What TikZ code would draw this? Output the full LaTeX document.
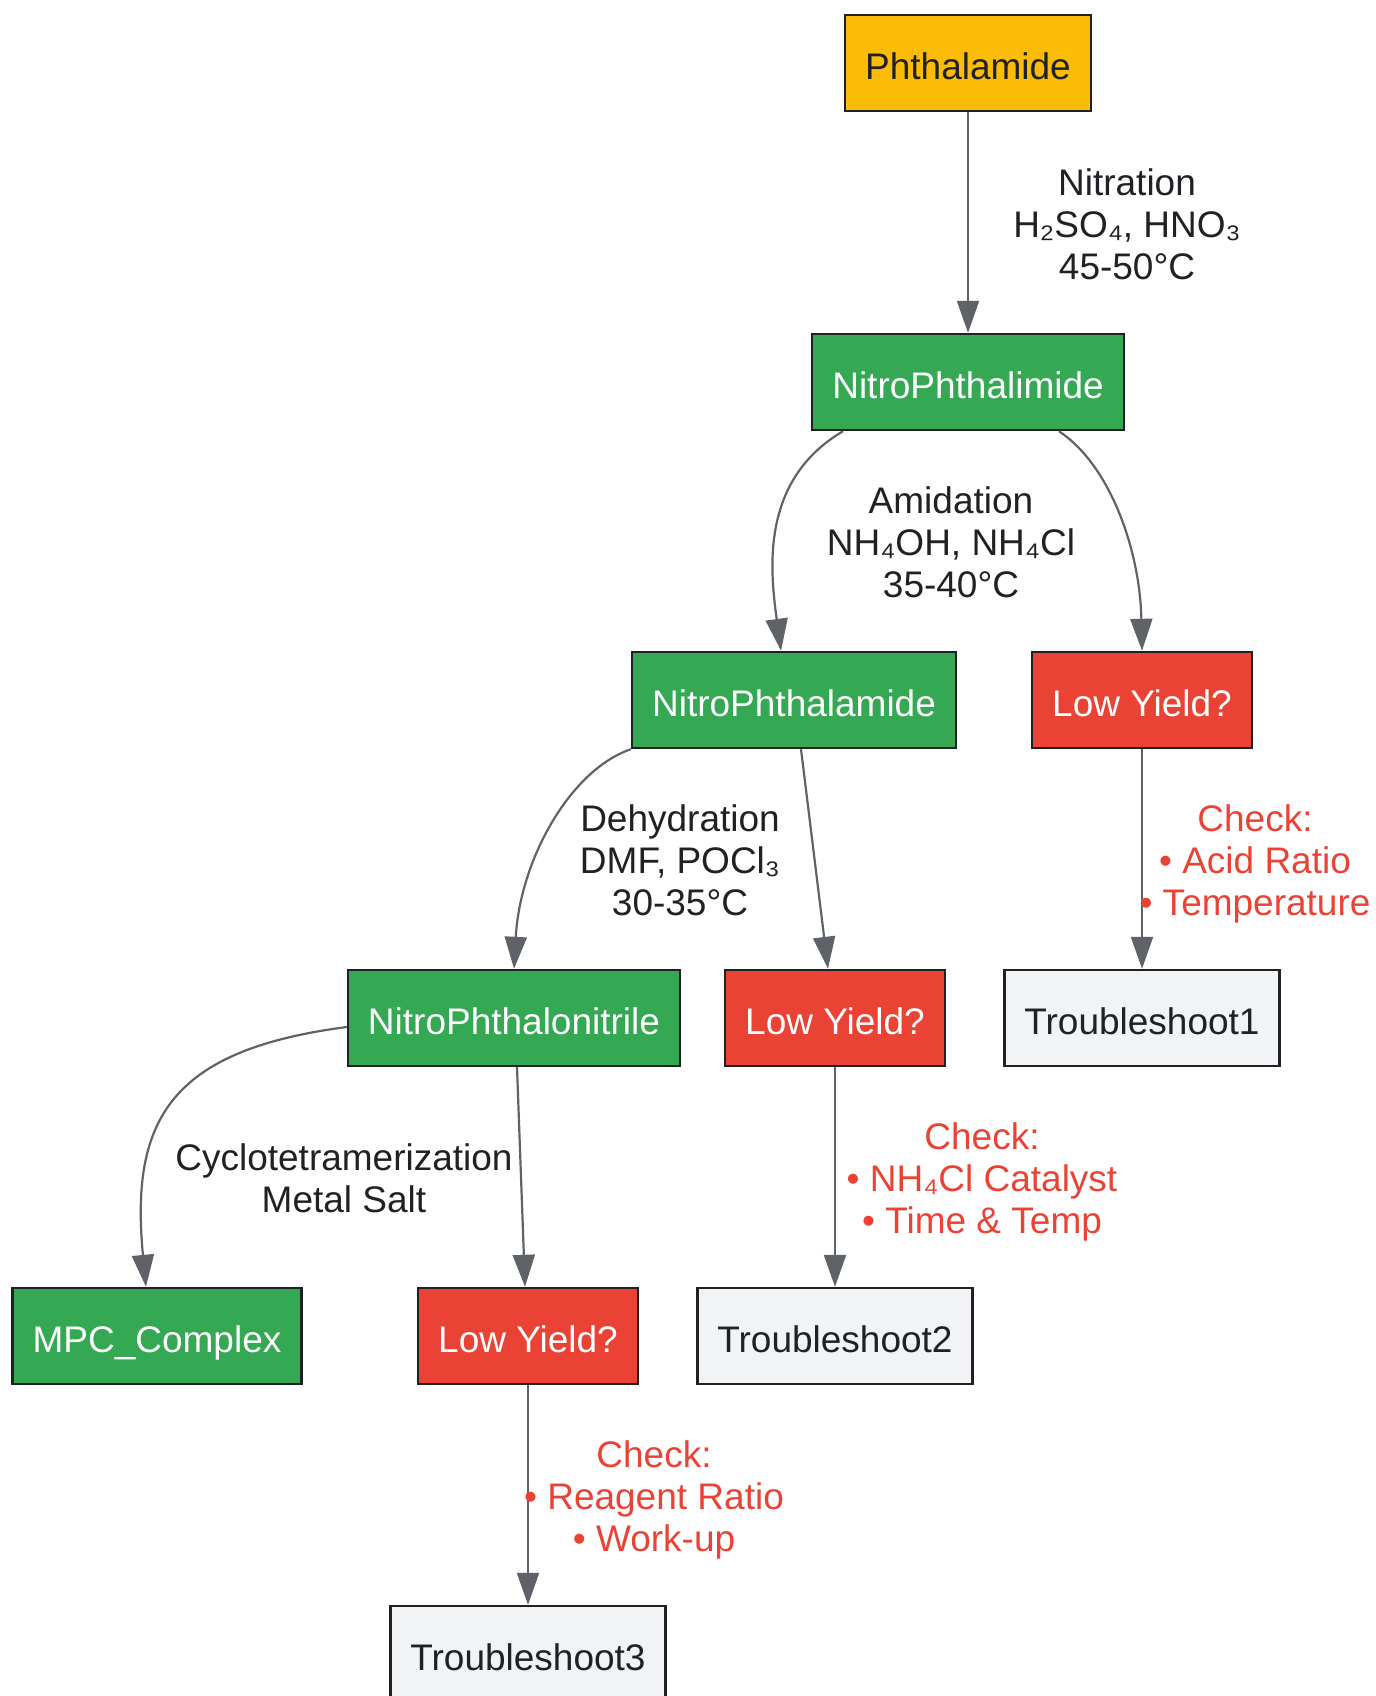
\documentclass[tikz,border=0pt]{standalone}
\usepackage{fontspec}
\setmainfont{Liberation Sans}
\usetikzlibrary{arrows.meta}
\definecolor{startfill}{HTML}{FBBC05}
\definecolor{stepfill}{HTML}{34A853}
\definecolor{warnfill}{HTML}{EA4335}
\definecolor{fixfill}{HTML}{F1F3F4}
\definecolor{boxline}{HTML}{202124}
\definecolor{flowline}{HTML}{5F6368}
\begin{document}
\begin{tikzpicture}[x=0.5pt,y=-0.5pt,
    box/.style={draw=boxline,line width=1.2pt,minimum height=48pt,inner xsep=10pt,
        text height=20pt,text depth=3.9pt,
        font=\fontsize{18.5pt}{21pt}\selectfont},
    startbox/.style={box,fill=startfill,text=boxline},
    stepbox/.style={box,fill=stepfill,text=white},
    warnbox/.style={box,fill=warnfill,text=white},
    fixbox/.style={box,fill=fixfill,text=boxline},
    flow/.style={draw=flowline,line width=1.1pt,-{Triangle[length=16pt,width=11pt]}},
    lbl/.style={align=center,text=boxline,font=\fontsize{18.5pt}{21pt}\selectfont},
    checklbl/.style={lbl,text=warnfill}]
        \useasboundingbox (0,0) rectangle (1375,1696);
        \node[startbox] (phth) at (968,63) {Phthalamide};
        \node[stepbox] (imide) at (968,382) {NitroPhthalimide};
        \node[stepbox] (amide) at (794,700) {NitroPhthalamide};
        \node[warnbox] (low1) at (1142,700) {Low Yield?};
        \node[stepbox] (nitrile) at (514,1018) {NitroPhthalonitrile};
        \node[warnbox] (low2) at (835,1018) {Low Yield?};
        \node[fixbox] (fix1) at (1142,1018) {Troubleshoot1};
        \node[stepbox] (mpc) at (157,1336) {MPC\_Complex};
        \node[warnbox] (low3) at (528,1336) {Low Yield?};
        \node[fixbox] (fix2) at (835,1336) {Troubleshoot2};
        \node[fixbox] (fix3) at (528,1654) {Troubleshoot3};
        \draw[flow] (phth) -- (imide);
        \draw[flow] ([xshift=16pt]imide.south west) .. controls (760,480) and (770,570) .. ([xshift=-6.5pt]amide.north);
        \draw[flow] ([xshift=-33pt]imide.south east) .. controls (1110,465) and (1140,550) .. (low1.north);
        \draw[flow] (amide.south west) .. controls (570,770) and (520,860) .. (nitrile.north);
        \draw[flow] ([xshift=3.5pt]amide.south) -- ([xshift=-3.5pt]low2.north);
        \draw[flow] (low1) -- (fix1);
        \draw[flow] ([yshift=-4.5pt]nitrile.west) .. controls (170,1050) and (130,1120) .. ([xshift=-5.5pt]mpc.north);
        \draw[flow] ([xshift=1.5pt]nitrile.south) -- ([xshift=-1.5pt]low3.north);
        \draw[flow] (low2) -- (fix2);
        \draw[flow] (low3) -- (fix3);
        \node[lbl] (nitration) at (1127,224) {Nitration\\H₂SO₄, HNO₃\\45-50°C};
        \node[lbl] (amidation) at (951,542) {Amidation\\NH₄OH, NH₄Cl\\35-40°C};
        \node[lbl] (dehydration) at (680,860) {Dehydration\\DMF, POCl₃\\30-35°C};
        \node[lbl] (cyclo) at (344,1178) {Cyclotetramerization\\Metal Salt};
        \node[checklbl] (check1) at (1255,864) {Check:\\• Acid Ratio\\• Temperature};
        \node[checklbl] (check2) at (982,1182) {Check:\\• NH₄Cl Catalyst\\• Time \& Temp};
        \node[checklbl] (check3) at (654,1500) {Check:\\• Reagent Ratio\\• Work-up};
    \end{tikzpicture}
\end{document}
